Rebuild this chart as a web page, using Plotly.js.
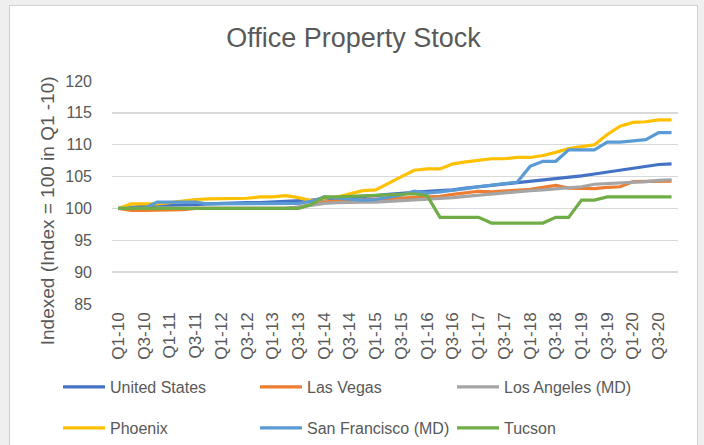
<!DOCTYPE html>
<html>
<head>
<meta charset="utf-8">
<script src="https://cdn.plot.ly/plotly-3.0.1.min.js"></script>
<style>
  html, body { margin: 0; padding: 0; background: #efeff0; width: 704px; height: 445px; overflow: hidden; }
  #chart { position: absolute; left: 9px; top: 5px; width: 687px; height: 445px; border: 1px solid #d0d0d0; background: #ffffff; }
</style>
</head>
<body>
<div id="chart"></div>
<script>
const quarters = [
  "Q1-10","Q2-10","Q3-10","Q4-10","Q1-11","Q2-11","Q3-11","Q4-11",
  "Q1-12","Q2-12","Q3-12","Q4-12","Q1-13","Q2-13","Q3-13","Q4-13",
  "Q1-14","Q2-14","Q3-14","Q4-14","Q1-15","Q2-15","Q3-15","Q4-15",
  "Q1-16","Q2-16","Q3-16","Q4-16","Q1-17","Q2-17","Q3-17","Q4-17",
  "Q1-18","Q2-18","Q3-18","Q4-18","Q1-19","Q2-19","Q3-19","Q4-19",
  "Q1-20","Q2-20","Q3-20","Q4-20"
];
const tickLabels = [
  "Q1-10","Q3-10","Q1-11","Q3-11","Q1-12","Q3-12","Q1-13","Q3-13",
  "Q1-14","Q3-14","Q1-15","Q3-15","Q1-16","Q3-16","Q1-17","Q3-17",
  "Q1-18","Q3-18","Q1-19","Q3-19","Q1-20","Q3-20"
];

const unitedStates = [100,100.2,100.4,100.5,100.5,100.5,100.6,100.7,100.8,100.8,
  100.9,100.9,101,101,101.1,101.3,101.5,101.6,101.7,101.8,
  102,102.2,102.4,102.6,102.7,102.8,102.9,103.2,103.4,103.6,
  103.8,104.0,104.3,104.5,104.7,104.9,105.1,105.4,105.7,106.1,
  106.4,106.6,106.9,107.0];
const lasVegas = [100,99.7,99.7,99.7,99.7,99.8,100,100,100,100,
  100,100,100,100,100.2,100.6,101,101.2,101.3,101.4,
  101.5,101.6,101.7,101.8,101.9,101.9,102.2,102.5,102.7,102.6,
  102.7,102.9,103.0,103.3,103.6,103.2,103.1,103.1,103.3,103.4,
  104.2,104.2,104.3,104.3];
const losAngeles = [100,100,100,100,100,100,100,100,100,100,
  100,100,100,100,100.2,100.5,100.8,100.9,101,101,
  101,101.1,101.2,101.4,101.5,101.6,101.7,101.9,102.1,102.3,
  102.4,102.6,102.8,102.9,103.1,103.3,103.4,103.8,103.9,103.9,
  104.0,104.2,104.4,104.5];
const phoenix = [100,100.7,100.7,100.7,100.9,101.2,101.4,101.5,101.5,101.5,
  101.6,101.8,101.8,102,101.7,101.2,101.6,101.8,102.3,102.8,
  102.9,104,105,106,106.2,106.2,107,107.3,107.6,107.8,
  107.8,108,108,108.3,108.8,109.4,109.7,110,111.6,112.9,
  113.5,113.6,113.9,113.9];
const sanFrancisco = [100,100,100,101,101,101,101,100.7,100.7,100.7,
  100.7,100.8,100.8,100.8,100.8,101.1,101.8,101.6,101.4,101.3,
  101.4,101.8,102.1,102.7,102.4,102.6,102.8,103.1,103.4,103.7,
  103.9,104.1,106.6,107.4,107.4,109.2,109.2,109.2,110.4,110.4,
  110.6,110.8,111.9,111.9];
const tucson = [100,100,100,100,100,100,100,100,100,100,
  100,100,100,100,100,100.6,101.8,101.8,101.9,102,
  102.1,102.2,102.3,102.3,102,98.6,98.6,98.6,98.6,97.7,
  97.7,97.7,97.7,97.7,98.6,98.6,101.3,101.3,101.8,101.8,
  101.8,101.8,101.8,101.8];

const seriesNames = ["United States","Las Vegas","Los Angeles (MD)","Phoenix","San Francisco (MD)","Tucson"];
const seriesValues = [unitedStates, lasVegas, losAngeles, phoenix, sanFrancisco, tucson];
const seriesColors = ["#4472C4","#ED7D31","#A5A5A5","#FFC000","#5B9BD5","#70AD47"];
const seriesLegend = ["legend","legend","legend","legend2","legend2","legend2"];

const traces = seriesNames.map((name, k) => ({
  type: "scatter",
  mode: "lines",
  name: name,
  x: quarters,
  y: seriesValues[k],
  legend: seriesLegend[k],
  line: { color: seriesColors[k], width: 3.2 },
  hoverinfo: "skip"
}));

const FONT = "Liberation Sans, Arial, sans-serif";
const legendBase = {
  orientation: "h",
  x: -0.0954, xanchor: "left",
  yanchor: "middle",
  entrywidth: 140,
  entrywidthmode: "pixels",
  traceorder: "normal",
  itemwidth: 42,
  font: { family: FONT, size: 16, color: "#595959" }
};
const layout = {
  width: 687,
  height: 445,
  margin: { l: 102, r: 19, t: 75, b: 147, autoexpand: false },
  paper_bgcolor: "#ffffff",
  plot_bgcolor: "#ffffff",
  font: { family: FONT, color: "#595959", size: 16 },
  title: {
    text: "Office Property Stock",
    font: { family: FONT, size: 27, color: "#595959" },
    x: 0.5, xanchor: "center", y: 0.93, yanchor: "middle", yref: "container"
  },
  showlegend: true,
  legend: Object.assign({}, legendBase, { y: -0.372 }),
  legend2: Object.assign({}, legendBase, { y: -0.556 }),
  xaxis: {
    type: "category",
    categoryorder: "array",
    categoryarray: quarters,
    range: [-0.5, quarters.length - 0.5],
    tickmode: "array",
    tickvals: tickLabels,
    ticktext: tickLabels,
    tickangle: -90,
    ticklabelstandoff: 4,
    tickfont: { family: FONT, size: 17, color: "#595959" },
    showgrid: false,
    showline: false,
    zeroline: false,
    ticks: ""
  },
  yaxis: {
    range: [85, 120],
    dtick: 5,
    tick0: 85,
    showgrid: true,
    gridcolor: "#d9d9d9",
    gridwidth: 1.3,
    zeroline: false,
    showline: false,
    ticks: "",
    ticklabelstandoff: 19,
    tickfont: { family: FONT, size: 16, color: "#595959" }
  },
  annotations: [{
    text: "Indexed (Index = 100 in Q1 -10)",
    xref: "paper", yref: "paper",
    x: -0.115, y: 0.42,
    xanchor: "center", yanchor: "middle",
    textangle: -90,
    showarrow: false,
    font: { family: FONT, size: 19, color: "#595959" }
  }]
};

Plotly.newPlot("chart", traces, layout, { displayModeBar: false, staticPlot: true });
</script>
</body>
</html>
